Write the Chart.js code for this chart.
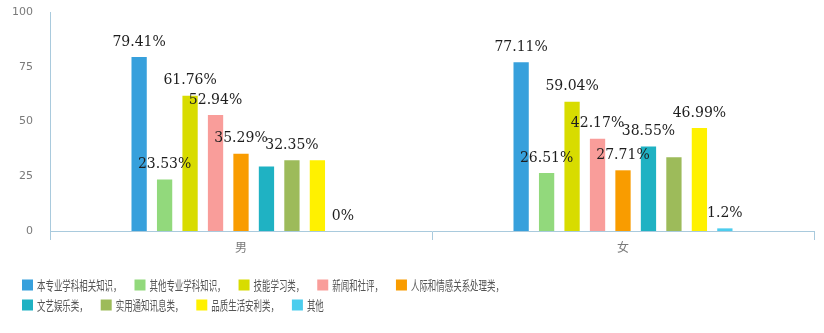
<!DOCTYPE html>
<html lang="zh-CN">
<head>
    <meta charset="UTF-8">
    <title>男女阅读内容偏好</title>
    <script src="https://cdn.jsdelivr.net/npm/chart.js"></script>
    <style>
        html, body { margin: 0; padding: 0; background: #fff; }
        #grafico { display: block; }
    </style>
</head>
<body>
    <canvas id="grafico" width="824" height="333"></canvas>

    <script>
        // Dados do gráfico
        const categories = ['男', '女'];
        const seriesNames = ['本专业学科相关知识', '其他专业学科知识', '技能学习类', '新闻和社评', '人际和情感关系处理类',
            '文艺娱乐类', '实用通知讯息类', '品质生活安利类', '其他'];
        const menValues = [79.41, 23.53, 61.76, 52.94, 35.29, 29.41, 32.35, 32.35, 0];
        const womenValues = [77.11, 26.51, 59.04, 42.17, 27.71, 38.55, 33.73, 46.99, 1.2];
        // quais rótulos aparecem na imagem original
        const menLabelShown = [true, true, true, true, true, false, true, false, true];
        const womenLabelShown = [true, true, true, true, true, true, false, true, true];
        const yTicks = [0, 25, 50, 75, 100];

        const colors = ['#37a0dc', '#92d97c', '#d8dc00', '#f99d9a', '#f99c00', '#1fb2c3', '#9dbb5a', '#fff100', '#4ccdee'];
        const axisColor = '#a9cadd';

        // Rótulos de valor acima das barras
        const valueLabels = {
            id: 'valueLabels',
            afterDatasetsDraw(chart) {
                const ctx = chart.ctx;
                ctx.save();
                ctx.font = '14px "DejaVu Serif"';
                ctx.fillStyle = '#1e1e1e';
                ctx.textAlign = 'center';
                ctx.textBaseline = 'middle';
                chart.data.datasets.forEach((ds, i) => {
                    const meta = chart.getDatasetMeta(i);
                    meta.data.forEach((bar, j) => {
                        const shown = j === 0 ? menLabelShown[i] : womenLabelShown[i];
                        if (!shown) return;
                        ctx.fillText(String(ds.data[j]) + '%', bar.x, bar.y - 15);
                    });
                });
                ctx.restore();
            }
        };

        // Legenda desenhada à mão (texto comprimido como no original)
        const flowLegend = {
            id: 'flowLegend',
            afterDraw(chart) {
                const ctx = chart.ctx;
                const left = 22, maxRight = 560, top = 285, rowH = 20;
                const box = 11, gapText = 4, gapItem = 13, squeeze = 0.65;
                ctx.save();
                ctx.font = '13px "Noto Sans CJK SC"';
                ctx.textBaseline = 'middle';
                let x = left, y = top;
                seriesNames.forEach((name, i) => {
                    const text = i < seriesNames.length - 1 ? name + '，' : name;
                    const w = box + gapText + ctx.measureText(text).width * squeeze;
                    if (x + w > maxRight) { x = left; y += rowH; }
                    ctx.fillStyle = colors[i];
                    ctx.fillRect(x, y - box / 2, box, box);
                    ctx.fillStyle = '#555';
                    ctx.save();
                    ctx.translate(x + box + gapText, y);
                    ctx.scale(squeeze, 1);
                    ctx.fillText(text, 0, 0);
                    ctx.restore();
                    x += w + gapItem;
                });
                ctx.restore();
            }
        };

        const grafico = new Chart(document.getElementById('grafico'), {
            type: 'bar',
            data: {
                labels: categories,
                datasets: seriesNames.map((name, i) => ({
                    label: name,
                    data: [menValues[i], womenValues[i]],
                    backgroundColor: colors[i],
                    categoryPercentage: 0.6,
                    barPercentage: 0.6
                }))
            },
            options: {
                responsive: false,
                animation: false,
                layout: { padding: { top: 12, right: 10, left: 0, bottom: 0 } },
                plugins: {
                    legend: { display: false },
                    tooltip: { enabled: false }
                },
                scales: {
                    x: {
                        grid: { offset: true, drawOnChartArea: false, tickLength: 9, color: axisColor },
                        border: { color: axisColor },
                        ticks: { color: '#7a7a7a', font: { size: 12, family: '"Noto Sans CJK SC"' }, padding: 0 },
                        afterFit(scale) { scale.height = 102; }
                    },
                    y: {
                        min: 0,
                        max: 100,
                        afterBuildTicks(scale) { scale.ticks = yTicks.map(v => ({ value: v })); },
                        grid: { display: false, drawTicks: false },
                        border: { color: axisColor },
                        ticks: { color: '#7a7a7a', font: { size: 11, family: '"DejaVu Sans"' }, padding: 17 },
                        afterFit(scale) {
                            scale.width = 50;
                            scale.paddingTop = 0;
                            scale.paddingBottom = 0;
                        }
                    }
                }
            },
            plugins: [valueLabels, flowLegend]
        });
    </script>
</body>
</html>
